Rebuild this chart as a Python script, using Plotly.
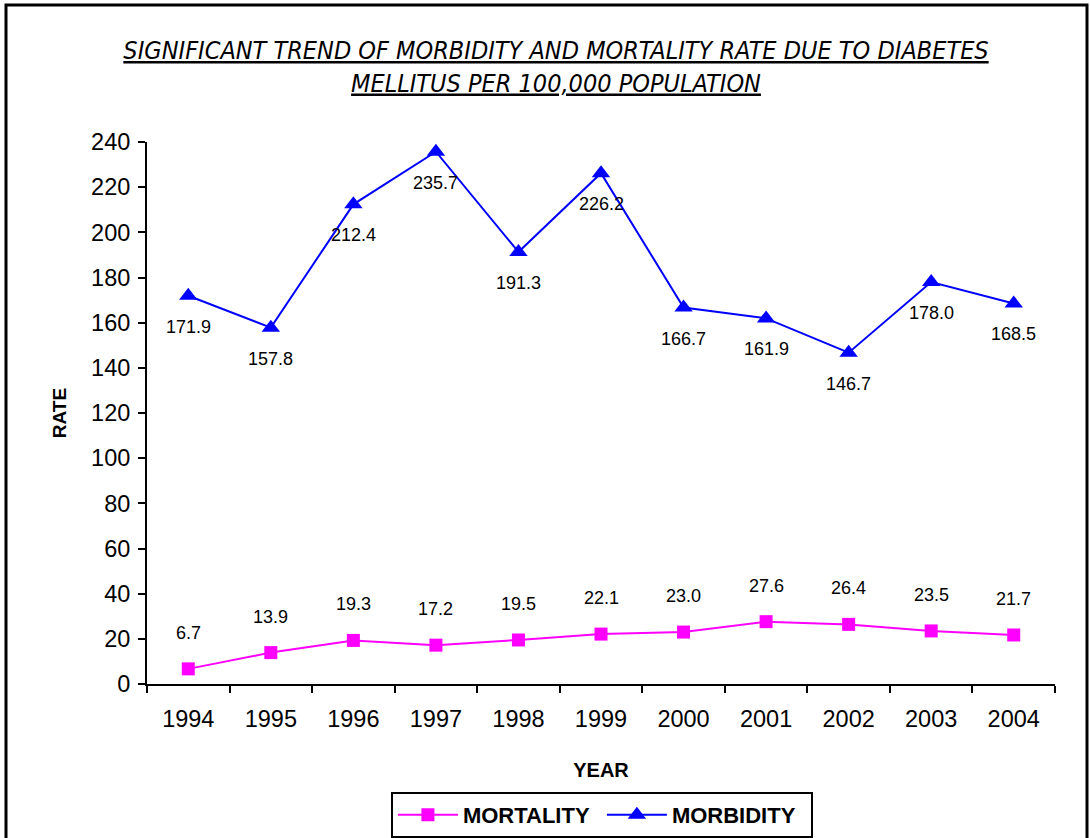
import plotly.graph_objects as go

years = ["1994", "1995", "1996", "1997", "1998", "1999", "2000", "2001", "2002", "2003", "2004"]
mortality = [6.7, 13.9, 19.3, 17.2, 19.5, 22.1, 23.0, 27.6, 26.4, 23.5, 21.7]
morbidity = [171.9, 157.8, 212.4, 235.7, 191.3, 226.2, 166.7, 161.9, 146.7, 178.0, 168.5]

MAG = "#FF00FF"
BLU = "#0000FF"
FONT = "Liberation Sans, Arial, sans-serif"

fig = go.Figure()
fig.add_trace(go.Scatter(
    x=years, y=mortality, name="MORTALITY", mode="lines+markers",
    line=dict(color=MAG, width=2),
    marker=dict(symbol="square", size=13, color=MAG),
))
fig.add_trace(go.Scatter(
    x=years, y=morbidity, name="MORBIDITY", mode="lines+markers",
    line=dict(color=BLU, width=2),
    marker=dict(symbol="triangle-up", size=16, color=BLU),
))

annotations = []
for i, v in enumerate(mortality):
    annotations.append(dict(x=i, y=v, xref="x", yref="y", text=f"{v:.1f}",
                            showarrow=False, yshift=36,
                            font=dict(family=FONT, size=18, color="black")))
for i, v in enumerate(morbidity):
    annotations.append(dict(x=i, y=v, xref="x", yref="y", text=f"{v:.1f}",
                            showarrow=False, yshift=-31,
                            font=dict(family=FONT, size=18, color="black")))

title_font = "Liberation Sans Narrow, Arial Narrow, DejaVu Sans Condensed, sans-serif"
fig.update_layout(
    width=1090, height=838,
    paper_bgcolor="white", plot_bgcolor="white",
    margin=dict(l=147, r=35, t=142, b=154, autoexpand=False),
    title=dict(
        text="<i><u>SIGNIFICANT TREND OF MORBIDITY AND MORTALITY RATE DUE TO DIABETES</u></i><br>"
             "<i><u>MELLITUS PER 100,000 POPULATION</u></i>",
        x=556 / 1090, xanchor="center", xref="container",
        y=1 - 59 / 838, yanchor="top", yref="container",
        font=dict(family=title_font, size=25, color="black"),
    ),
    xaxis=dict(
        type="category", range=[-0.5, 10.5],
        showline=True, linecolor="black", linewidth=2,
        ticks="outside", tickson="boundaries", ticklen=7, tickwidth=2, tickcolor="black",
        tickfont=dict(family=FONT, size=23.5, color="black"),
        ticklabelstandoff=13,
        showgrid=False, zeroline=False,
        title=dict(text="<b>YEAR</b>", font=dict(family=FONT, size=20, color="black"), standoff=32),
    ),
    yaxis=dict(
        range=[0, 240], dtick=20,
        showline=True, linecolor="black", linewidth=2,
        ticks="outside", ticklen=7, tickwidth=2, tickcolor="black",
        tickfont=dict(family=FONT, size=23.5, color="black"),
        ticklabelstandoff=3,
        showgrid=False, zeroline=False,
        title=dict(text="<b>RATE</b>", font=dict(family=FONT, size=19, color="black"), standoff=19),
    ),
    legend=dict(
        orientation="h", x=0.501, xanchor="center", y=-0.199, yanchor="top",
        bordercolor="black", borderwidth=2, bgcolor="white",
        itemwidth=60, entrywidth=134,
        font=dict(family=FONT, size=22, color="black", weight="bold"),
    ),
    annotations=annotations,
    shapes=[dict(type="rect", xref="paper", yref="paper",
                 x0=(6 - 147) / 908, x1=(1087 - 147) / 908,
                 y0=(684 - 850) / 542, y1=(684 - 5) / 542,
                 line=dict(color="black", width=3), fillcolor="rgba(0,0,0,0)", layer="below")],
    showlegend=True,
)

fig.write_html("out.html", config={"displayModeBar": False},
               post_script="document.body.style.margin='0';document.body.style.overflow='hidden';")
